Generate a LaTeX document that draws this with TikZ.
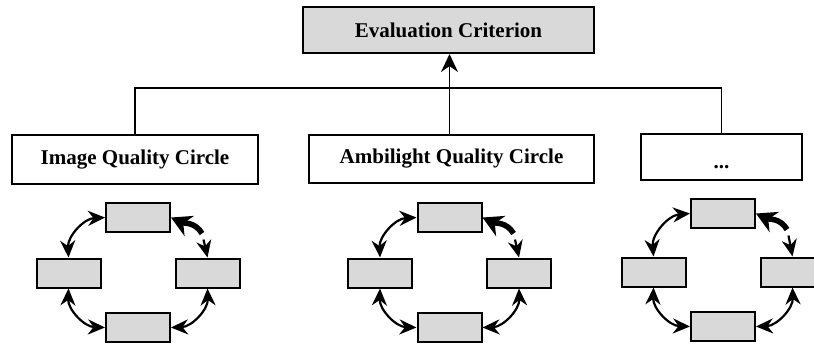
\documentclass[tikz,border=0pt]{standalone}
\usepackage{fontspec}
\setmainfont{Liberation Serif}
\usetikzlibrary{arrows.meta}

\begin{document}
\begin{tikzpicture}[x=.5pt, y=.5pt, >={Stealth[length=8.5pt, width=7.5pt]}, line width=.8pt,
        every node/.style={font=\bfseries\fontsize{10.5}{12.6}\selectfont},
        greybox/.style={draw, line width=1pt, fill=gray!30, inner sep=0pt, minimum width=32pt, minimum height=14.5pt},
        whitebox/.style={draw, line width=1pt, fill=white, inner sep=0pt, minimum height=24pt},
        cyc/.style={<->, line width=1.1pt},
        heavy/.style={-{Stealth[length=10pt, width=11pt]}, line width=2.8pt}]
    \useasboundingbox (0, 0) rectangle (814, -345); %画布大小, 单位为像素
    %上层: 评价准则与三个子圈
    \node[greybox, minimum width=145.5pt, minimum height=23pt] (eval) at (448.5, -30){Evaluation Criterion};
    \node[whitebox, minimum width=123pt, minimum height=24.5pt] (img) at (135, -159.5){Image Quality Circle};
    \node[whitebox, minimum width=142.5pt] (amb) at (451.5, -159){Ambilight Quality Circle};
    \node[whitebox, minimum width=80.5pt, minimum height=23pt, text height=11pt, text depth=0pt] (dots) at (721.5, -157){...};
    \coordinate (bus) at (0, -88); %横线的高度
    \draw (img.north) |- (bus -| dots.north) -- (dots.north);
    \draw[->, >={Stealth[length=9pt, width=8.5pt]}] ([xshift=-1pt]amb.north) -- ([xshift=-1pt]amb.north |- eval.south);
    %下层: 每个圈里四个方框, 箭头首尾相接
    \foreach \i/\cx/\cy/\my/\by in {1/138/217.5/273/327.5, 2/449.5/217.5/273/327.5, 3/723/213.5/272/326.5}{
        \node[greybox] (t\i) at (\cx, -\cy){};
        \node[greybox] (l\i) at (\cx-69.5, -\my){};
        \node[greybox] (r\i) at (\cx+69.5, -\my){};
        \node[greybox] (b\i) at (\cx, -\by){};
        \draw[cyc] (t\i.west) to[bend right=45] (l\i.north);
        \draw[cyc] (l\i.south) to[bend right=45] (b\i.west);
        \draw[cyc] (b\i.east) to[bend right=45] (r\i.south);
        \coordinate (k\i) at (\cx+64, -\cy-16); %粗箭头的尾
        \coordinate (h\i) at (\cx+65.5, -\cy-22); %细箭头的尾
        \draw[heavy] (k\i) to[out=120, in=-25] (t\i.east);
        \draw[->, line width=1.1pt] (h\i) -- (r\i.north);
    }
\end{tikzpicture}
\end{document}
